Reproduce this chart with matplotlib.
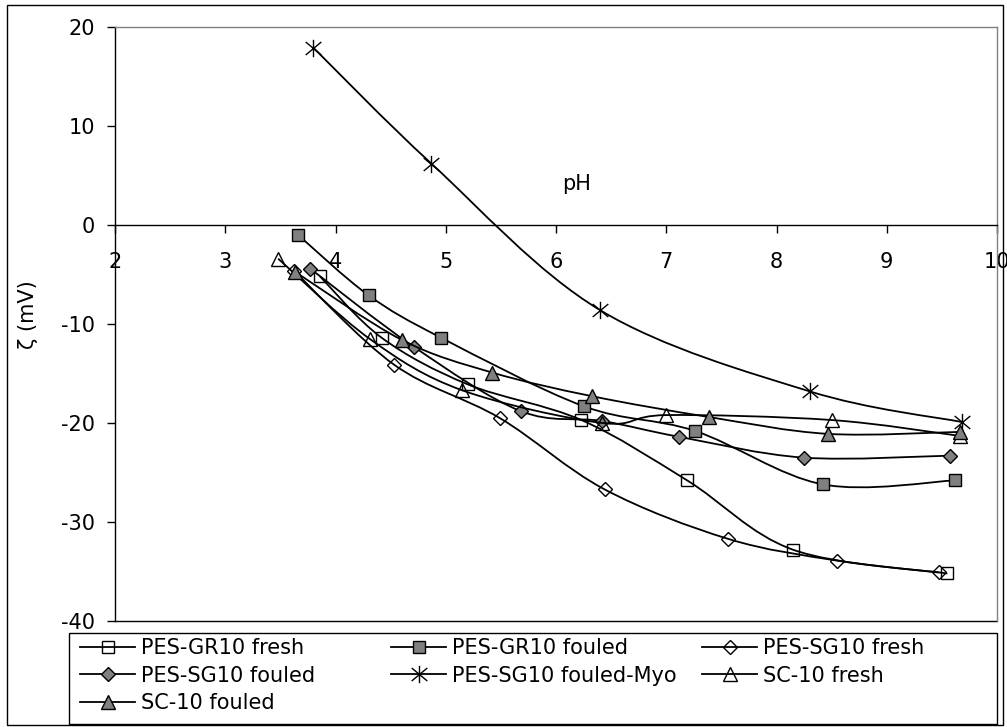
import numpy as np
import matplotlib
matplotlib.use('Agg')
import matplotlib.pyplot as plt
from matplotlib.path import Path
from matplotlib.patches import PathPatch, Rectangle
from matplotlib.lines import Line2D

plt.rcParams['font.family'] = ['DejaVu Sans']
plt.rcParams['font.size'] = 15
plt.rcParams['axes.unicode_minus'] = False

# ---------------- data ----------------
labels = ["PES-GR10 fresh", "PES-GR10 fouled", "PES-SG10 fresh",
          "PES-SG10 fouled", "PES-SG10 fouled-Myo", "SC-10 fresh", "SC-10 fouled"]

gr10_fresh_ph = [3.86, 4.42, 5.20, 6.23, 7.19, 8.15, 9.55]
gr10_fresh_zeta = [-5.2, -11.4, -16.1, -19.7, -25.8, -32.8, -35.2]

gr10_fouled_ph = [3.66, 4.30, 4.96, 6.25, 7.26, 8.42, 9.62]
gr10_fouled_zeta = [-1.0, -7.1, -11.4, -18.3, -20.8, -26.2, -25.8]

sg10_fresh_ph = [3.62, 4.53, 5.49, 6.44, 7.56, 8.55, 9.47]
sg10_fresh_zeta = [-4.6, -14.1, -19.5, -26.7, -31.7, -33.9, -35.1]

sg10_fouled_ph = [3.77, 4.71, 5.68, 6.42, 7.12, 8.25, 9.57]
sg10_fouled_zeta = [-4.4, -12.3, -18.8, -19.8, -21.4, -23.5, -23.3]

myo_ph = [3.80, 4.87, 6.40, 8.30, 9.68]
myo_zeta = [17.9, 6.2, -8.6, -16.8, -19.9]

sc10_fresh_ph = [3.48, 4.31, 5.15, 6.42, 7.00, 8.50, 9.66]
sc10_fresh_zeta = [-3.4, -11.5, -16.7, -20.0, -19.2, -19.7, -21.3]

sc10_fouled_ph = [3.63, 4.60, 5.42, 6.33, 7.39, 8.47, 9.66]
sc10_fouled_zeta = [-4.7, -11.6, -14.9, -17.3, -19.4, -21.1, -20.9]

xticks = [2, 3, 4, 5, 6, 7, 8, 9, 10]
yticks = [-40, -30, -20, -10, 0, 10, 20]

# ---------------- styles ----------------
star = Path([(0, -1), (0, 1), (-0.9, -0.75), (0.9, 0.75), (-0.9, 0.75), (0.9, -0.75)],
            [Path.MOVETO, Path.LINETO, Path.MOVETO, Path.LINETO, Path.MOVETO, Path.LINETO])
GRAY = '#808080'
styles = [
    dict(marker='s', ms=9, mfc='none'),
    dict(marker='s', ms=9, mfc=GRAY),
    dict(marker='D', ms=7.2, mfc='none'),
    dict(marker='D', ms=7.2, mfc=GRAY),
    dict(marker=star, ms=12.5, mfc='none'),
    dict(marker='^', ms=9.5, mfc='none'),
    dict(marker='^', ms=9.5, mfc=GRAY),
]
series = [(gr10_fresh_ph, gr10_fresh_zeta), (gr10_fouled_ph, gr10_fouled_zeta),
          (sg10_fresh_ph, sg10_fresh_zeta), (sg10_fouled_ph, sg10_fouled_zeta),
          (myo_ph, myo_zeta), (sc10_fresh_ph, sc10_fresh_zeta),
          (sc10_fouled_ph, sc10_fouled_zeta)]

LW = 1.3


def smooth_path(x, y):
    P = np.column_stack([x, y]).astype(float)
    n = len(P)
    verts = [P[0]]
    codes = [Path.MOVETO]
    for i in range(n - 1):
        p0 = P[i - 1] if i > 0 else P[i]
        p1 = P[i]
        p2 = P[i + 1]
        p3 = P[i + 2] if i + 2 < n else P[i + 1]
        c1 = p1 + (p2 - p0) / 6.0
        c2 = p2 - (p3 - p1) / 6.0
        verts += [c1, c2, p2]
        codes += [Path.CURVE4] * 3
    return Path(verts, codes)


W, H = 1007, 727
fig = plt.figure(figsize=(W / 100, H / 100), dpi=100)
ax = fig.add_axes([115 / W, 1 - 621 / H, (997 - 115) / W, (621 - 27) / H])
ax.set_xlim(2, 10)
ax.set_ylim(-40, 20)

handles = []
for i, ((xs, ys), st) in enumerate(zip(series, styles)):
    patch = PathPatch(smooth_path(xs, ys), fill=False, edgecolor='black', lw=LW,
                      zorder=2 + i * 0.01)
    ax.add_patch(patch)
    ax.plot(xs, ys, linestyle='none', marker=st['marker'], ms=st['ms'],
            mfc=st['mfc'], mec='black', mew=1.0, zorder=2.005 + i * 0.01,
            clip_on=False)
    handles.append(Line2D([], [], color='black', lw=LW, marker=st['marker'],
                          ms=st['ms'], mfc=st['mfc'], mec='black', mew=1.0))

# axes styling
ax.spines['bottom'].set_position(('data', 0))
ax.spines['bottom'].set_linewidth(1.0)
ax.spines['left'].set_linewidth(1.0)
for s in ['top', 'right']:
    ax.spines[s].set_color(GRAY)
    ax.spines[s].set_linewidth(1.0)
ax.plot([0, 1], [0, 0], transform=ax.transAxes, color='black', lw=1.0,
        clip_on=False, zorder=1)
ax.set_xticks(xticks)
ax.set_yticks(yticks)
ax.tick_params(axis='x', direction='out', length=5.5, width=1, pad=14, labelsize=15)
ax.tick_params(axis='y', direction='out', length=5.5, width=1, pad=9, labelsize=15)

fig.text(27.5 / W, 1 - 315 / H, 'ζ (mV)', rotation=90, ha='center', va='center',
         fontsize=15)
fig.text(577 / W, 1 - 184 / H, 'pH', ha='center', va='center', fontsize=15)

# legend (three aligned columns inside one frame)
cols = [([0, 3, 6], 80), ([1, 4], 391), ([2, 5], 702)]
for idx, xpix in cols:
    fig.legend([handles[k] for k in idx], [labels[k] for k in idx],
               loc='upper left', bbox_to_anchor=(xpix / W, 1 - 638 / H),
               frameon=False, borderpad=0, borderaxespad=0, handlelength=2.65,
               handletextpad=0.3, labelspacing=0.37, fontsize=15)
fig.patches.append(Rectangle((69 / W, 1 - 724 / H), 928 / W, 91 / H,
                             transform=fig.transFigure, fill=False,
                             edgecolor='black', lw=1.0))
fig.patches.append(Rectangle((6.5 / W, 1 - 724.5 / H), 996 / W, 719.5 / H,
                             transform=fig.transFigure, fill=False,
                             edgecolor='black', lw=1.0))

fig.savefig('out.png', dpi=100)
